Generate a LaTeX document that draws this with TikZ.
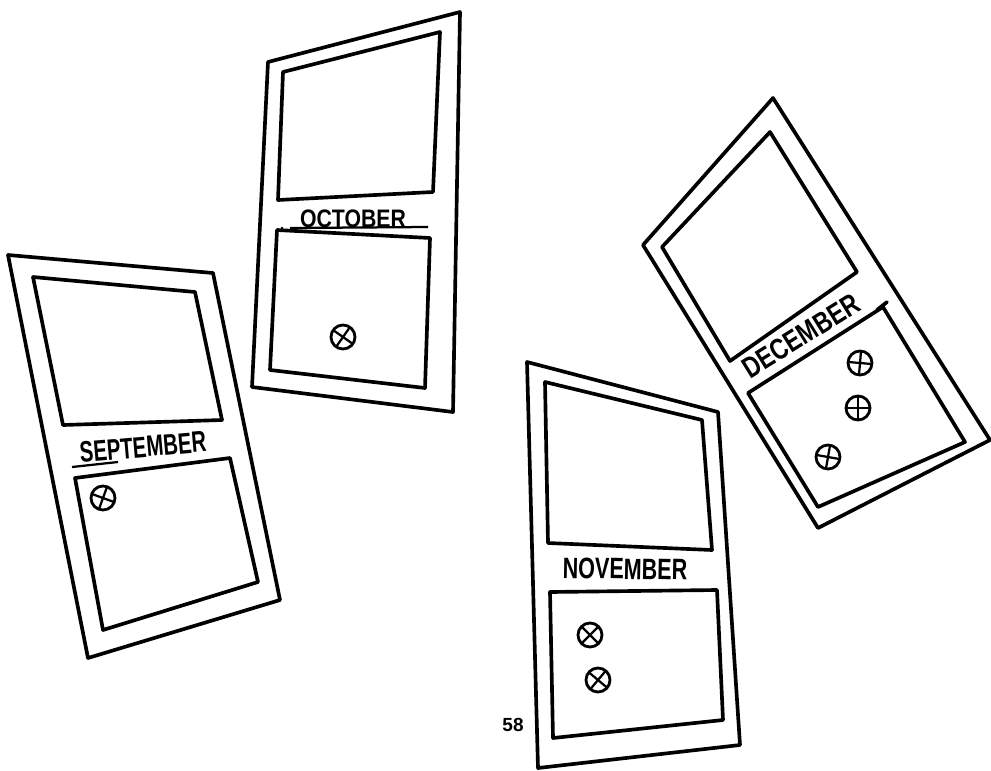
\documentclass[tikz,border=0pt]{standalone}
\usepackage{fontspec}
\setmainfont{Liberation Sans}
\usetikzlibrary{calc}

\tikzset{
  frame/.style={line width=2.6pt, line join=round, line cap=round},
  month/.style={inner sep=0pt, font=\bfseries\fontsize{21}{21}\selectfont},
}

\begin{document}
\begin{tikzpicture}[x=0.025cm, y=-0.025cm]
  \useasboundingbox (0,0) rectangle (991,770);

  % September
  \coordinate (SA) at (8,255);
  \coordinate (SB) at (213,273);
  \coordinate (SC) at (280,600);
  \coordinate (SD) at (88,658);
  \draw[frame] (SA) -- (SB) -- (SC) -- (SD) -- cycle;
  \draw[frame] (33,277) -- (195,292) -- (222,420) -- (63,425) -- cycle;
  \draw[frame] (75,478) -- (230,458) -- (258,582) -- (103,630) -- cycle;
  \node[month, rotate=5, xscale=0.69] (sep) at (143,447) {SEPTEMBER};
  \draw[line width=1.6pt] (72,467) -- (118,462);

  % October
  \coordinate (OA) at (268,62);
  \coordinate (OB) at (460,12);
  \coordinate (OC) at (453,412);
  \coordinate (OD) at (252,387);
  \draw[frame] (OA) -- (OB) -- (OC) -- (OD) -- cycle;
  \draw[frame] (283,72) -- (440,32) -- (433,192) -- (278,200) -- cycle;
  \draw[frame] (277,230) -- (430,238) -- (425,388) -- (270,370) -- cycle;
  \node[month, xscale=0.84, font=\bfseries\fontsize{18}{18}\selectfont] (oct) at (353,219) {OCTOBER};
  \draw[line width=1.6pt] (290,228) -- (428,227);
  \fill (282,228) circle (1.3);

  % November
  \coordinate (NA) at (527,362);
  \coordinate (NB) at (718,412);
  \coordinate (NC) at (740,745);
  \coordinate (ND) at (538,768);
  \draw[frame] (NA) -- (NB) -- (NC) -- (ND) -- cycle;
  \draw[frame] (545,382) -- (702,420) -- (712,550) -- (548,543) -- cycle;
  \draw[frame] (550,592) -- (717,590) -- (723,720) -- (553,738) -- cycle;
  \node[month, rotate=-1, xscale=0.73] (nov) at (625,569) {NOVEMBER};

  % December
  \coordinate (DA) at (773,98);
  \coordinate (DB) at (990,440);
  \coordinate (DC) at (818,528);
  \coordinate (DD) at (643,245);
  \draw[frame] (DA) -- (DB) -- (DC) -- (DD) -- cycle;
  \draw[frame] (770,132) -- (857,272) -- (730,361) -- (662,247) -- cycle;
  \draw[frame] (748,393) -- (883,307) -- (965,442) -- (818,507) -- cycle;
  \draw[frame] (877,310) -- (887,302);
  \node[month, rotate=32, xscale=0.78] (dec) at (801,336) {DECEMBER};

  % page number
  \node[inner sep=0pt, font=\bfseries\fontsize{13.5}{13.5}\selectfont] (page) at (513,725) {58};

  % crossed circles: centre and turn of the cross
  \foreach \x/\y/\t in {103/498/20, 343/337/35, 590/635/45, 598/680/40,
                        860/363/5, 858/408/0, 828/457/10} {
    \draw[line width=2pt] (\x,\y) circle (12);
    \draw[line width=1.6pt] ($(\x,\y)+(\t:12)$) -- ($(\x,\y)+(\t+180:12)$);
    \draw[line width=1.6pt] ($(\x,\y)+(\t+90:12)$) -- ($(\x,\y)+(\t+270:12)$);
  }
\end{tikzpicture}
\end{document}
